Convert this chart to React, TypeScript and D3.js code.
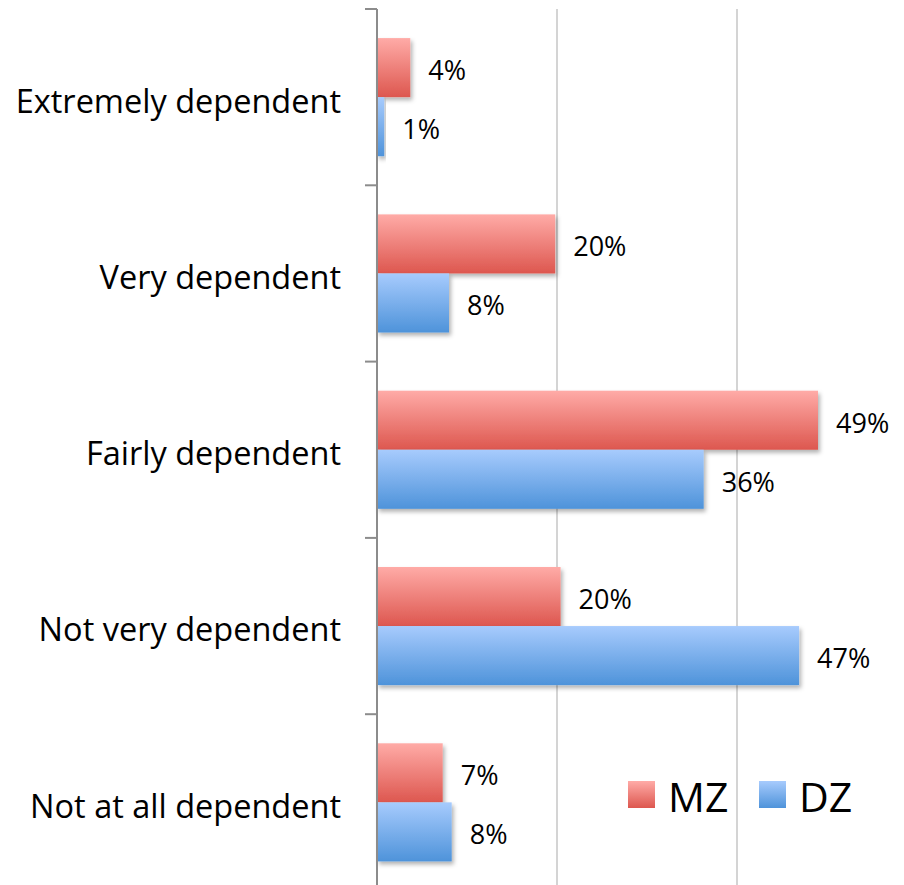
import React from "react";
import * as d3 from "d3";

const categories = [
  "Extremely dependent",
  "Very dependent",
  "Fairly dependent",
  "Not very dependent",
  "Not at all dependent",
];
const seriesNames = ["MZ", "DZ"];
const mzValues = [3.7, 19.8, 49.0, 20.4, 7.3];
const dzValues = [0.8, 8.0, 36.3, 46.9, 8.3];
const xTicks = [0, 20, 40, 60];

const W = 904;
const H = 885;
const FONT = "'Open Sans', Lato, sans-serif";

export default function App() {
  const x = d3.scaleLinear().domain([0, 60]).range([377, 917]);
  const y = d3
    .scaleBand<string>()
    .domain(categories)
    .range([9, 890.5])
    .paddingInner(0.33)
    .paddingOuter(0.165);
  const sub = d3
    .scaleBand<string>()
    .domain(seriesNames)
    .range([0, y.bandwidth()]);
  const step = y.step();
  const gradIds: Record<string, string> = { MZ: "gradMZ", DZ: "gradDZ" };
  const values: Record<string, number[]> = { MZ: mzValues, DZ: dzValues };

  return (
    <svg
      width={W}
      height={H}
      style={{ position: "absolute", left: 0, top: 0, background: "#fff" }}
    >
      <defs>
        <linearGradient id="gradMZ" x1="0" y1="0" x2="0" y2="1">
          <stop offset="0%" stopColor="#FFABA7" />
          <stop offset="100%" stopColor="#DD574F" />
        </linearGradient>
        <linearGradient id="gradDZ" x1="0" y1="0" x2="0" y2="1">
          <stop offset="0%" stopColor="#A7CBFD" />
          <stop offset="100%" stopColor="#4E93DA" />
        </linearGradient>
        <filter id="shadow" x="-10%" y="-20%" width="130%" height="150%">
          <feDropShadow dx="2" dy="3" stdDeviation="2" floodColor="#000" floodOpacity="0.3" />
        </filter>
      </defs>

      {/* gridlines */}
      {xTicks.slice(1).map((t) => (
        <line
          key={t}
          x1={x(t)}
          x2={x(t)}
          y1={9}
          y2={H}
          stroke="#D4D4D4"
          strokeWidth={2}
        />
      ))}

      {/* bars */}
      {categories.map((c, i) =>
        seriesNames.map((s) => {
          const v = values[s][i];
          const by = (y(c) as number) + (sub(s) as number);
          const bh = sub.bandwidth();
          return (
            <g key={c + s}>
              <rect
                x={x(0)}
                y={by}
                width={x(v) - x(0)}
                height={bh}
                fill={`url(#${gradIds[s]})`}
                filter="url(#shadow)"
              />
              <text
                x={x(v) + 18}
                y={by + bh / 2 + 3}
                dy="0.35em"
                fontFamily={FONT}
                fontSize={27}
                fill="#000"
              >
                {Math.round(v)}%
              </text>
            </g>
          );
        })
      )}

      {/* axis */}
      <line x1={377} x2={377} y1={9} y2={H} stroke="#8C8C8C" strokeWidth={2} />
      {d3.range(categories.length + 1).map((i) => (
        <line
          key={i}
          x1={365}
          x2={377}
          y1={9 + i * step}
          y2={9 + i * step}
          stroke="#8C8C8C"
          strokeWidth={2}
        />
      ))}

      {/* category labels */}
      {categories.map((c) => (
        <text
          key={c}
          x={341}
          y={(y(c) as number) + y.bandwidth() / 2 + 4}
          dy="0.35em"
          textAnchor="end"
          fontFamily={FONT}
          fontSize={32.5}
          fill="#000"
        >
          {c}
        </text>
      ))}

      {/* legend */}
      {seriesNames.map((s, i) => {
        const lx = 628 + i * 131;
        return (
          <g key={s}>
            <rect x={lx} y={781} width={27} height={27} fill={`url(#${gradIds[s]})`} />
            <text
              x={lx + 40}
              y={798}
              dy="0.35em"
              fontFamily={FONT}
              fontSize={41}
              fill="#000"
            >
              {s}
            </text>
          </g>
        );
      })}
    </svg>
  );
}
